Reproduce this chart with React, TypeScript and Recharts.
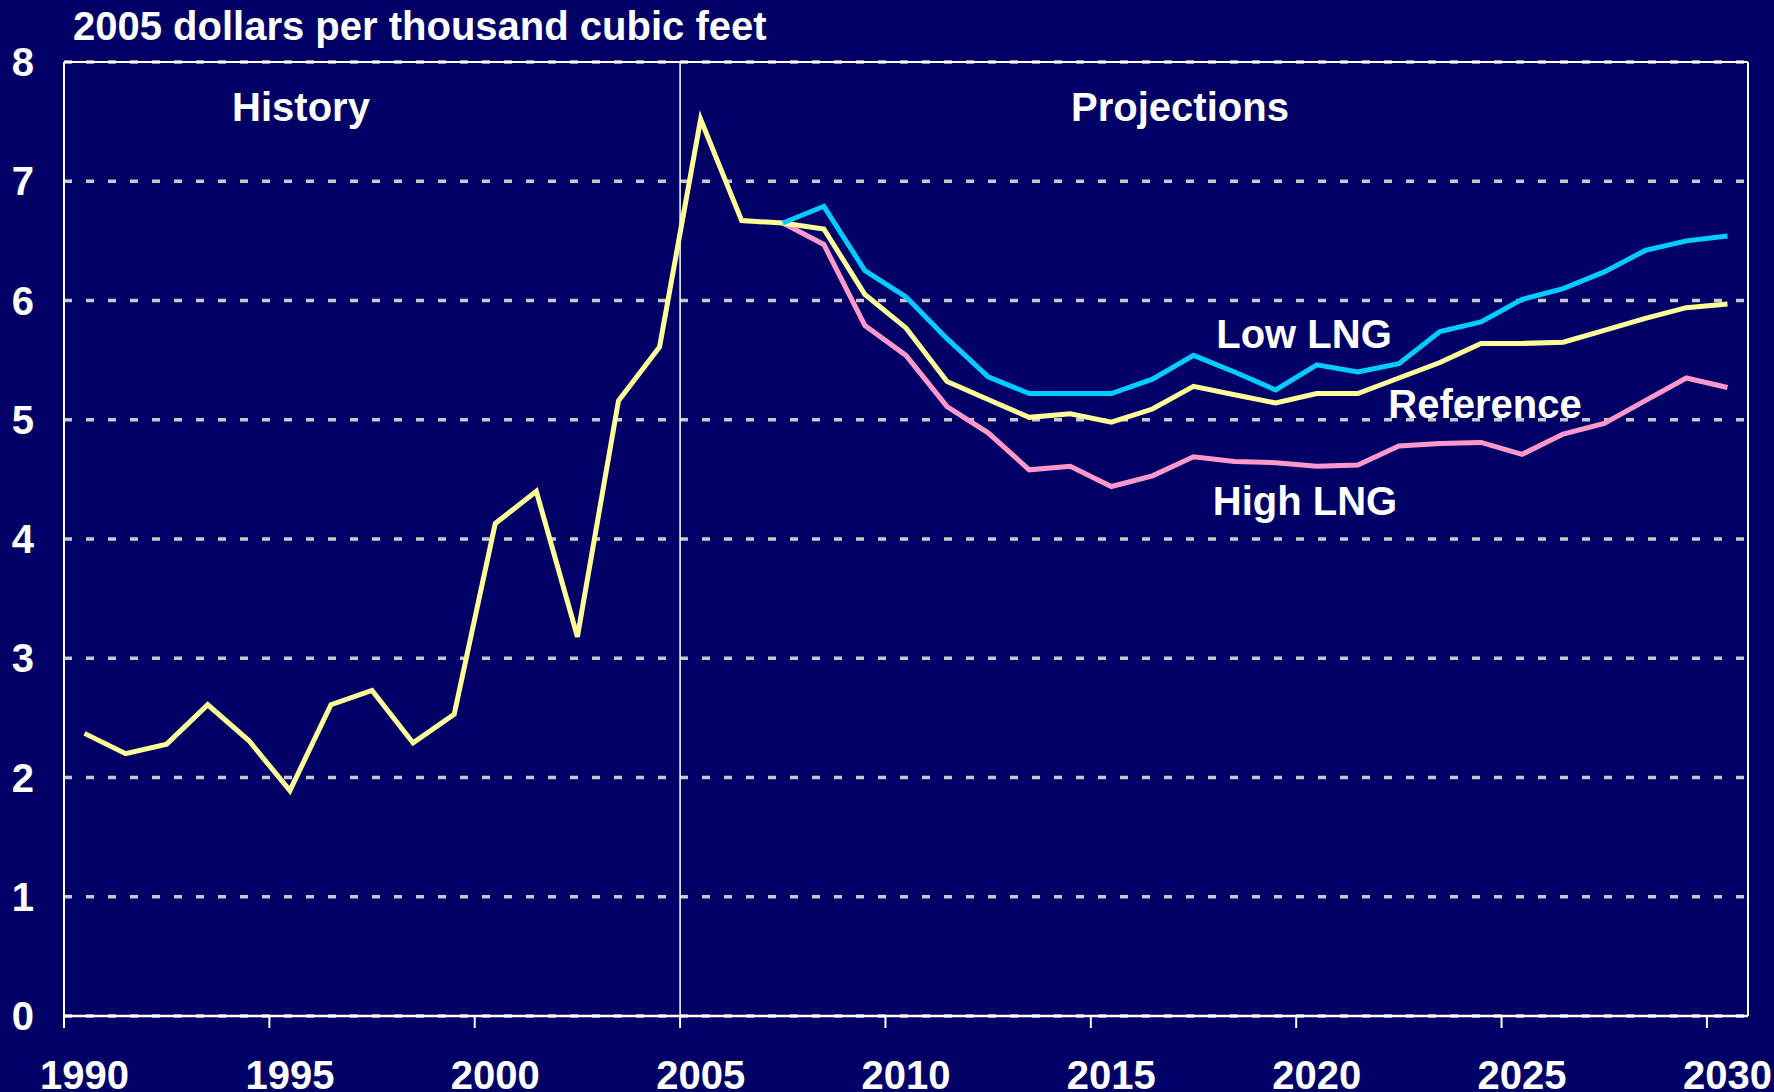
import React from "react";
import { LineChart, Line, XAxis, YAxis, CartesianGrid, ReferenceLine } from "recharts";

const years = [
  1990, 1991, 1992, 1993, 1994, 1995, 1996, 1997, 1998, 1999,
  2000, 2001, 2002, 2003, 2004, 2005, 2006, 2007, 2008, 2009,
  2010, 2011, 2012, 2013, 2014, 2015, 2016, 2017, 2018, 2019,
  2020, 2021, 2022, 2023, 2024, 2025, 2026, 2027, 2028, 2029, 2030,
];

// history 1990-2006 plus the reference case
const reference = [
  2.37, 2.2, 2.28, 2.61, 2.31, 1.89, 2.61, 2.73, 2.29, 2.53,
  4.13, 4.4, 3.18, 5.16, 5.61, 7.52, 6.67, 6.65, 6.6, 6.05,
  5.77, 5.32, 5.17, 5.02, 5.05, 4.98, 5.09, 5.28, 5.21, 5.14,
  5.22, 5.22, 5.35, 5.48, 5.64, 5.64, 5.65, 5.75, 5.85, 5.94, 5.97,
];

const lowLng = [
  null, null, null, null, null, null, null, null, null, null,
  null, null, null, null, null, null, null, 6.65, 6.79, 6.25,
  6.03, 5.68, 5.36, 5.22, 5.22, 5.22, 5.34, 5.54, 5.4, 5.25,
  5.46, 5.4, 5.47, 5.74, 5.82, 6.01, 6.1, 6.24, 6.42, 6.5, 6.54,
];

const highLng = [
  null, null, null, null, null, null, null, null, null, null,
  null, null, null, null, null, null, null, 6.65, 6.47, 5.79,
  5.54, 5.11, 4.89, 4.58, 4.61, 4.44, 4.53, 4.69, 4.65, 4.64,
  4.61, 4.62, 4.78, 4.8, 4.81, 4.71, 4.88, 4.97, 5.16, 5.35, 5.27,
];

const yearLabels = [1990, 1995, 2000, 2005, 2010, 2015, 2020, 2025, 2030];
const yTicks = [0, 1, 2, 3, 4, 5, 6, 7, 8];

const W = 1774;
const H = 1092;
const PLOT_LEFT = 64;
const PLOT_RIGHT = 1748;
const PLOT_TOP = 62;
const PLOT_BOTTOM = 1016;
const HALF_YEAR = (PLOT_RIGHT - PLOT_LEFT) / years.length / 2;

const FONT = '"Liberation Sans", Arial, sans-serif';
const BG = "#000066";

const data = years.map((year, i) => ({
  year,
  reference: reference[i],
  lowLng: lowLng[i],
  highLng: highLng[i],
}));

// tick marks sit on the year boundaries, labels in the middle of the year
const xTicks = yearLabels.map((y) => y - 0.5);

const labelStyle = (x: number, y: number): React.CSSProperties => ({
  position: "absolute",
  left: x,
  top: y,
  transform: "translate(-50%, -50%)",
  color: "#fff",
  fontFamily: FONT,
  fontWeight: 700,
  fontSize: 40,
  lineHeight: 1,
  whiteSpace: "nowrap",
});

const App = () => {
  return (
    <div style={{ position: "absolute", left: 0, top: 0, width: W, height: H, background: BG, overflow: "hidden" }}>
      <LineChart
        width={W}
        height={H}
        data={data}
        margin={{ top: PLOT_TOP, right: W - PLOT_RIGHT, bottom: 0, left: 0 }}
      >
        <CartesianGrid vertical={false} stroke="#c8c8c8" strokeWidth={3.5} strokeDasharray="8 14" />
        <XAxis
          dataKey="year"
          type="number"
          domain={[1989.5, 2030.5]}
          ticks={xTicks}
          interval={0}
          height={H - PLOT_BOTTOM}
          tickSize={12}
          tickMargin={33}
          tickFormatter={(v: number) => String(v + 0.5)}
          axisLine={{ stroke: "#fff", strokeWidth: 2.5 }}
          tickLine={{ stroke: "#fff", strokeWidth: 2 }}
          tick={{ dx: HALF_YEAR, fill: "#fff", fontSize: 40, fontWeight: 700, fontFamily: FONT }}
        />
        <YAxis
          domain={[0, 8]}
          ticks={yTicks}
          interval={0}
          width={PLOT_LEFT}
          tickSize={0}
          tickMargin={30}
          axisLine={{ stroke: "#fff", strokeWidth: 2 }}
          tickLine={false}
          tick={{ fill: "#fff", fontSize: 40, fontWeight: 700, fontFamily: FONT }}
        />
        <ReferenceLine y={8} stroke="#fff" strokeWidth={2} />
        <ReferenceLine x={2030.5} stroke="#fff" strokeWidth={2} />
        <ReferenceLine x={2004.5} stroke="#fff" strokeWidth={1.5} />
        <Line type="linear" dataKey="highLng" stroke="#ff99cc" strokeWidth={5} dot={false} isAnimationActive={false} />
        <Line type="linear" dataKey="reference" stroke="#ffff99" strokeWidth={5} dot={false} isAnimationActive={false} />
        <Line type="linear" dataKey="lowLng" stroke="#00ccff" strokeWidth={5} dot={false} isAnimationActive={false} />
      </LineChart>

      <div style={{ ...labelStyle(73, 26), transform: "translate(0, -50%)" }}>2005 dollars per thousand cubic feet</div>
      <div style={labelStyle(301, 107)}>History</div>
      <div style={labelStyle(1180, 107)}>Projections</div>
      <div style={labelStyle(1304, 334)}>Low LNG</div>
      <div style={labelStyle(1485, 404)}>Reference</div>
      <div style={labelStyle(1305, 501)}>High LNG</div>
    </div>
  );
};

export default App;
